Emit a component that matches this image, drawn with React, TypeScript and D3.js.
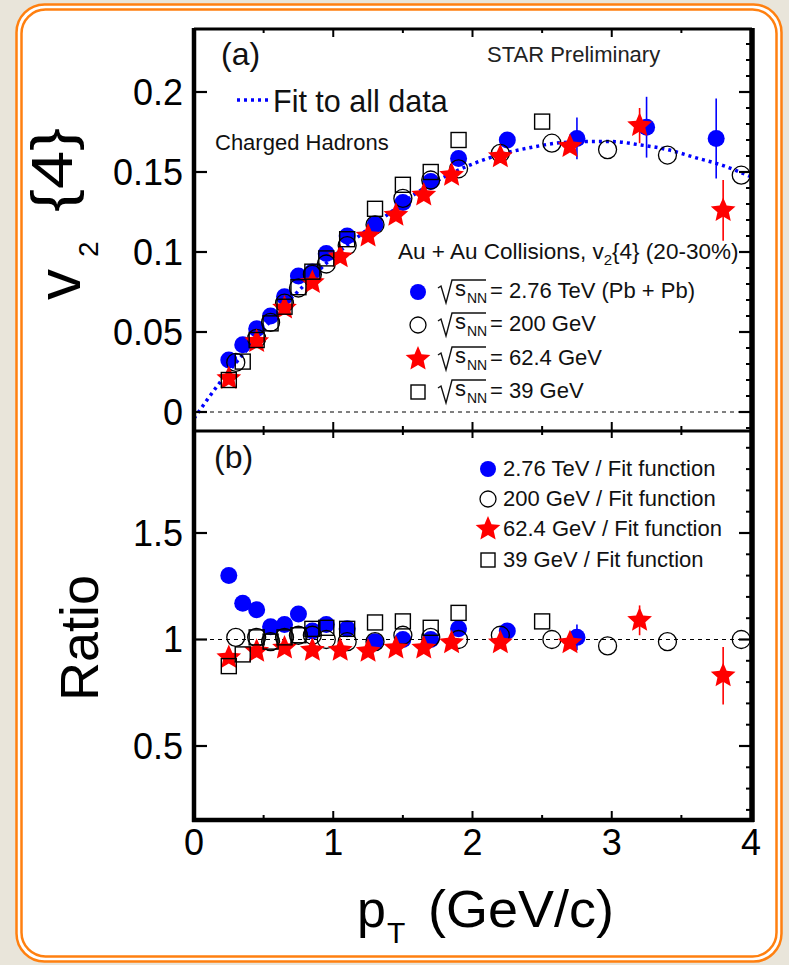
import React from "react";
import * as d3 from "d3";

// ---------- data ----------
const fitPt = [0, 0.2, 0.4, 0.6, 0.8, 1.0, 1.2, 1.4, 1.6, 1.8, 2.0, 2.2, 2.4, 2.6, 2.8, 3.0, 3.2, 3.4, 3.6, 3.8, 4.0];
const fitV = [-0.004, 0.02, 0.041, 0.062, 0.08, 0.097, 0.111, 0.124, 0.137, 0.147, 0.155, 0.161, 0.165, 0.168, 0.169, 0.169, 0.167, 0.164, 0.159, 0.154, 0.147];

const lhcPt = [0.25, 0.35, 0.45, 0.55, 0.65, 0.75, 0.85, 0.95, 1.1, 1.3, 1.5, 1.7, 1.9, 2.25, 2.75, 3.25, 3.75];
const lhcV = [0.0325, 0.042, 0.052, 0.06, 0.072, 0.085, 0.0875, 0.099, 0.11, 0.117, 0.131, 0.144, 0.1585, 0.17, 0.171, 0.178, 0.171];
const lhcErr = [0, 0, 0, 0, 0, 0, 0, 0, 0, 0, 0, 0, 0, 0.004, 0.013, 0.019, 0.025];
const lhcRatioPt = [0.25, 0.35, 0.45, 0.55, 0.65, 0.75, 0.85, 0.95, 1.1, 1.3, 1.5, 1.7, 1.9, 2.25, 2.75];
const lhcRatio = [1.3, 1.17, 1.14, 1.06, 1.07, 1.12, 1.04, 1.07, 1.05, 0.99, 1.0, 1.0, 1.05, 1.04, 1.01];
const lhcRatioErr = [0, 0, 0, 0, 0, 0, 0, 0, 0, 0, 0, 0, 0, 0, 0.06];

const s200Pt = [0.3, 0.45, 0.55, 0.65, 0.75, 0.85, 0.95, 1.1, 1.3, 1.5, 1.7, 1.9, 2.2, 2.57, 2.97, 3.4, 3.93];
const s200V = [0.031, 0.046, 0.056, 0.068, 0.0775, 0.086, 0.0925, 0.104, 0.117, 0.1335, 0.145, 0.152, 0.1617, 0.168, 0.164, 0.1606, 0.148];
const s200Ratio = [1.01, 1.01, 0.99, 1.01, 1.02, 1.02, 1.0, 0.99, 0.99, 1.02, 1.01, 1.0, 1.02, 1.0, 0.97, 0.99, 1.0];

const s62Pt = [0.25, 0.45, 0.65, 0.85, 1.05, 1.25, 1.45, 1.65, 1.85, 2.2, 2.7, 3.2, 3.8];
const s62V = [0.021, 0.044, 0.065, 0.081, 0.097, 0.11, 0.123, 0.1356, 0.148, 0.1596, 0.166, 0.179, 0.126];
const s62Err = [0, 0, 0, 0, 0, 0, 0, 0, 0, 0, 0, 0.011, 0.019];
const s62Ratio = [0.915, 0.945, 0.96, 0.95, 0.95, 0.945, 0.96, 0.96, 0.985, 0.985, 0.985, 1.09, 0.83];
const s62RatioErr = [0, 0, 0, 0, 0, 0, 0, 0, 0, 0, 0, 0.07, 0.135];

const s39Pt = [0.25, 0.35, 0.45, 0.55, 0.65, 0.75, 0.85, 0.95, 1.1, 1.3, 1.5, 1.7, 1.9, 2.5];
const s39V = [0.02, 0.0315, 0.045, 0.0554, 0.0658, 0.078, 0.0877, 0.096, 0.108, 0.127, 0.142, 0.15, 0.17, 0.1815];
const s39Ratio = [0.875, 0.93, 1.01, 0.99, 1.01, 1.02, 1.05, 1.055, 1.05, 1.08, 1.085, 1.055, 1.125, 1.085];

const xTickVals = [0, 1, 2, 3, 4];
const xMinorVals = [0.5, 1.5, 2.5, 3.5];
const yTopTicks = [0, 0.05, 0.1, 0.15, 0.2];
const yTopLabels = ["0", "0.05", "0.1", "0.15", "0.2"];
const yBotTicks = [0.5, 1, 1.5];
const yBotLabels = ["0.5", "1", "1.5"];

const topLegend = ["= 2.76 TeV (Pb + Pb)", "= 200 GeV", "= 62.4 GeV", "= 39 GeV"];
const botLegend = ["2.76 TeV / Fit function", "200 GeV / Fit function", "62.4 GeV / Fit function", "39 GeV / Fit function"];

// ---------- layout ----------
const W = 789, H = 965;
const FONT = "'Liberation Sans', Arial, Helvetica, sans-serif";
const L = 194, R = 752, T = 29, MID = 431, B = 820;
const BLUE = "#0000ff", RED = "#ff0000";

const x = d3.scaleLinear().domain([0, 4]).range([194, 751]);
const yT = d3.scaleLinear().domain([0, 0.2]).range([412, 92]);
const yB = d3.scaleLinear().domain([0.5, 1.5]).range([746, 533]);

function starPath(cx: number, cy: number, Ro = 12.5, Ri = 5.8) {
  const pts: string[] = [];
  for (let i = 0; i < 10; i++) {
    const r = i % 2 === 0 ? Ro : Ri;
    const a = -Math.PI / 2 + (i * Math.PI) / 5;
    pts.push(`${cx + r * Math.cos(a)},${cy + r * Math.sin(a)}`);
  }
  return "M" + pts.join("L") + "Z";
}

const Dot = ({ cx, cy, r = 8.5 }: any) => <circle cx={cx} cy={cy} r={r} fill={BLUE} />;
const Ring = ({ cx, cy, r = 9 }: any) => <circle cx={cx} cy={cy} r={r} fill="none" stroke="#000" strokeWidth={1.3} />;
const Star = ({ cx, cy, s = 1 }: any) => <path d={starPath(cx, cy, 13 * s, 6 * s)} fill={RED} />;
const Sq = ({ cx, cy, h = 7.5 }: any) => (
  <rect x={cx - h} y={cy - h} width={2 * h} height={2 * h} fill="none" stroke="#000" strokeWidth={1.4} />
);

const ErrBar = ({ cx, y1, y2, color }: any) => <line x1={cx} x2={cx} y1={y1} y2={y2} stroke={color} strokeWidth={1.6} />;

const Sqrt = ({ x0, cy, text }: any) => (
  <g fontFamily={FONT} fill="#111">
    <path d={`M${x0},${cy - 4} L${x0 + 3},${cy - 6} L${x0 + 8},${cy + 11} L${x0 + 14},${cy - 12} L${x0 + 48},${cy - 12}`} fill="none" stroke="#111" strokeWidth={1.4} />
    <text x={x0 + 17} y={cy + 4} fontSize={22}>s</text>
    <text x={x0 + 29} y={cy + 11} fontSize={14}>NN</text>
    <text x={x0 + 52} y={cy + 6} fontSize={22}>{text}</text>
  </g>
);

export default function App() {
  const fitLine = d3.line<number>().x((_, i) => x(fitPt[i])).y((d) => yT(d)).curve(d3.curveMonotoneX)(fitV) as string;

  const yTopMinor: number[] = [];
  for (let v = -0.01; v <= 0.235; v += 0.01) if (Math.abs(Math.round(v * 100) % 5) !== 0) yTopMinor.push(v);
  const yBotMinor: number[] = [];
  for (let v = 0.2; v <= 1.95; v += 0.1) {
    const r = Math.round(v * 10) / 10;
    if (Math.abs(r * 2 - Math.round(r * 2)) > 1e-6) yBotMinor.push(r);
  }

  const topRows = [292, 325, 359, 392];
  const botRows = [469, 499, 529, 560];

  return (
    <svg width={W} height={H} style={{ position: "absolute", left: 0, top: 0 }} fontFamily={FONT}>
      <rect x={0} y={0} width={W} height={H} fill="#e9e5da" />
      <rect x={16.5} y={4.5} width={765} height={957} rx={28} fill="#fff" stroke="#ff8010" strokeWidth={2.5} />
      <rect x={21.5} y={9.5} width={755} height={947} rx={24} fill="#fff" stroke="#ff8010" strokeWidth={2.5} />

      {/* zero / unity dashed lines */}
      <line x1={L} x2={R} y1={yT(0)} y2={yT(0)} stroke="#000" strokeWidth={1} strokeDasharray="4 4" />
      <line x1={L} x2={R} y1={yB(1)} y2={yB(1)} stroke="#000" strokeWidth={1} strokeDasharray="4 4" />

      {/* fit curve */}
      <path d={fitLine} fill="none" stroke={BLUE} strokeWidth={3.5} strokeDasharray="3 4" />

      {/* ---- top panel data ---- */}
      {lhcPt.map((p, i) => lhcErr[i] > 0 && <ErrBar key={"le" + i} cx={x(p)} y1={yT(lhcV[i] - lhcErr[i])} y2={yT(lhcV[i] + lhcErr[i])} color={BLUE} />)}
      {lhcPt.map((p, i) => <Dot key={"ld" + i} cx={x(p)} cy={yT(lhcV[i])} />)}
      {s200Pt.map((p, i) => <Ring key={"r" + i} cx={x(p)} cy={yT(s200V[i])} />)}
      {s62Pt.map((p, i) => s62Err[i] > 0 && <ErrBar key={"se" + i} cx={x(p)} y1={yT(s62V[i] - s62Err[i])} y2={yT(s62V[i] + s62Err[i])} color={RED} />)}
      {s62Pt.map((p, i) => <Star key={"s" + i} cx={x(p)} cy={yT(s62V[i])} />)}
      {s39Pt.map((p, i) => <Sq key={"q" + i} cx={x(p)} cy={yT(s39V[i])} />)}

      {/* ---- bottom panel data ---- */}
      {lhcRatioPt.map((p, i) => lhcRatioErr[i] > 0 && <ErrBar key={"lbe" + i} cx={x(p)} y1={yB(lhcRatio[i] - lhcRatioErr[i])} y2={yB(lhcRatio[i] + lhcRatioErr[i])} color={BLUE} />)}
      {lhcRatioPt.map((p, i) => <Dot key={"lb" + i} cx={x(p)} cy={yB(lhcRatio[i])} />)}
      {s200Pt.map((p, i) => <Ring key={"rb" + i} cx={x(p)} cy={yB(s200Ratio[i])} />)}
      {s62Pt.map((p, i) => s62RatioErr[i] > 0 && <ErrBar key={"sbe" + i} cx={x(p)} y1={yB(s62Ratio[i] - s62RatioErr[i])} y2={yB(s62Ratio[i] + s62RatioErr[i])} color={RED} />)}
      {s62Pt.map((p, i) => <Star key={"sb" + i} cx={x(p)} cy={yB(s62Ratio[i])} />)}
      {s39Pt.map((p, i) => <Sq key={"qb" + i} cx={x(p)} cy={yB(s39Ratio[i])} />)}

      {/* ---- frames ---- */}
      <line x1={L} x2={L} y1={T - 1} y2={B + 2} stroke="#000" strokeWidth={4.5} />
      <line x1={R} x2={R} y1={T - 1} y2={B + 2} stroke="#000" strokeWidth={5.5} />
      <line x1={L} x2={R} y1={T} y2={T} stroke="#000" strokeWidth={3} />
      <line x1={L} x2={R} y1={MID} y2={MID} stroke="#000" strokeWidth={3} />
      <line x1={L - 2} x2={R + 2} y1={B} y2={B} stroke="#000" strokeWidth={4.5} />

      {/* x ticks */}
      {xTickVals.map((v) => (
        <g key={"xt" + v} stroke="#000" strokeWidth={2}>
          <line x1={x(v)} x2={x(v)} y1={T} y2={T + 8} />
          <line x1={x(v)} x2={x(v)} y1={MID} y2={MID - 9} />
          <line x1={x(v)} x2={x(v)} y1={MID} y2={MID + 7} />
          <line x1={x(v)} x2={x(v)} y1={B} y2={B - 9} />
        </g>
      ))}
      {xMinorVals.map((v) => (
        <g key={"xm" + v} stroke="#000" strokeWidth={2}>
          <line x1={x(v)} x2={x(v)} y1={T} y2={T + 4} />
          <line x1={x(v)} x2={x(v)} y1={MID} y2={MID - 5} />
          <line x1={x(v)} x2={x(v)} y1={MID} y2={MID + 4} />
          <line x1={x(v)} x2={x(v)} y1={B} y2={B - 5} />
        </g>
      ))}
      {/* y ticks */}
      {yTopTicks.map((v) => (
        <g key={"yt" + v} stroke="#000" strokeWidth={2.2}>
          <line x1={L} x2={L + 13} y1={yT(v)} y2={yT(v)} />
          <line x1={R} x2={R - 13} y1={yT(v)} y2={yT(v)} />
        </g>
      ))}
      {yTopMinor.map((v, i) => (
        <line key={"ytm" + i} x1={R} x2={R - 6} y1={yT(v)} y2={yT(v)} stroke="#000" strokeWidth={2} />
      ))}
      {yBotTicks.map((v) => (
        <g key={"yb" + v} stroke="#000" strokeWidth={2.2}>
          <line x1={L} x2={L + 13} y1={yB(v)} y2={yB(v)} />
          <line x1={R} x2={R - 13} y1={yB(v)} y2={yB(v)} />
        </g>
      ))}
      {yBotMinor.map((v, i) => (
        <line key={"ybm" + i} x1={R} x2={R - 6} y1={yB(v)} y2={yB(v)} stroke="#000" strokeWidth={2} />
      ))}

      {/* tick labels */}
      {yTopTicks.map((v, i) => (
        <text key={"ytl" + v} x={183} y={yT(v)} dy="0.36em" textAnchor="end" fontSize={36} fill="#000">{yTopLabels[i]}</text>
      ))}
      {yBotTicks.map((v, i) => (
        <text key={"ybl" + v} x={183} y={yB(v)} dy="0.36em" textAnchor="end" fontSize={36} fill="#000">{yBotLabels[i]}</text>
      ))}
      {xTickVals.map((v) => (
        <text key={"xtl" + v} x={x(v)} y={855} textAnchor="middle" fontSize={36} fill="#000">{v}</text>
      ))}

      {/* axis titles */}
      <g fill="#000">
        <text x={357} y={927} fontSize={52}>p</text>
        <text x={387} y={943} fontSize={30}>T</text>
        <text x={428} y={927} fontSize={52} textLength={186} lengthAdjust="spacingAndGlyphs">(GeV/c)</text>
      </g>
      <g transform="translate(98,638) rotate(-90)" fill="#000">
        <text x={0} y={0} textAnchor="middle" fontSize={54}>Ratio</text>
      </g>
      <g transform="translate(80,300) rotate(-90)" fill="#000">
        <text x={0} y={0} fontSize={62}>v</text>
        <text x={43} y={18} fontSize={28}>2</text>
        <text x={88} y={-8} fontSize={57} textLength={84} lengthAdjust="spacingAndGlyphs">{"{4}"}</text>
      </g>

      {/* panel annotations */}
      <text x={221} y={65} fontSize={32} fill="#111">(a)</text>
      <text x={214} y={468} fontSize={32} fill="#111">(b)</text>
      <text x={487} y={62} fontSize={22} fill="#222">STAR Preliminary</text>
      <text x={215} y={150} fontSize={22} fill="#111">Charged Hadrons</text>
      <line x1={237} x2={268} y1={100} y2={100} stroke={BLUE} strokeWidth={3.5} strokeDasharray="3 4" />
      <text x={273} y={112} fontSize={30.5} fill="#111">Fit to all data</text>

      <text x={398} y={259} fontSize={22.5} fill="#111">
        Au + Au Collisions, v<tspan fontSize={15} dy={6}>2</tspan><tspan dy={-6}>{"{4} (20-30%)"}</tspan>
      </text>

      {/* top legend */}
      <Dot cx={418} cy={topRows[0]} r={8} />
      <Ring cx={418} cy={topRows[1]} r={8} />
      <Star cx={418} cy={topRows[2]} />
      <Sq cx={418} cy={topRows[3]} h={7} />
      {topRows.map((cy, i) => <Sqrt key={"sq" + i} x0={438} cy={cy} text={topLegend[i]} />)}

      {/* bottom legend */}
      <Dot cx={488} cy={botRows[0]} r={8} />
      <Ring cx={488} cy={botRows[1]} r={8} />
      <Star cx={488} cy={botRows[2]} />
      <Sq cx={488} cy={botRows[3]} h={7} />
      {botRows.map((cy, i) => (
        <text key={"bl" + i} x={503} y={cy + 7} fontSize={22} fill="#111">{botLegend[i]}</text>
      ))}
    </svg>
  );
}
